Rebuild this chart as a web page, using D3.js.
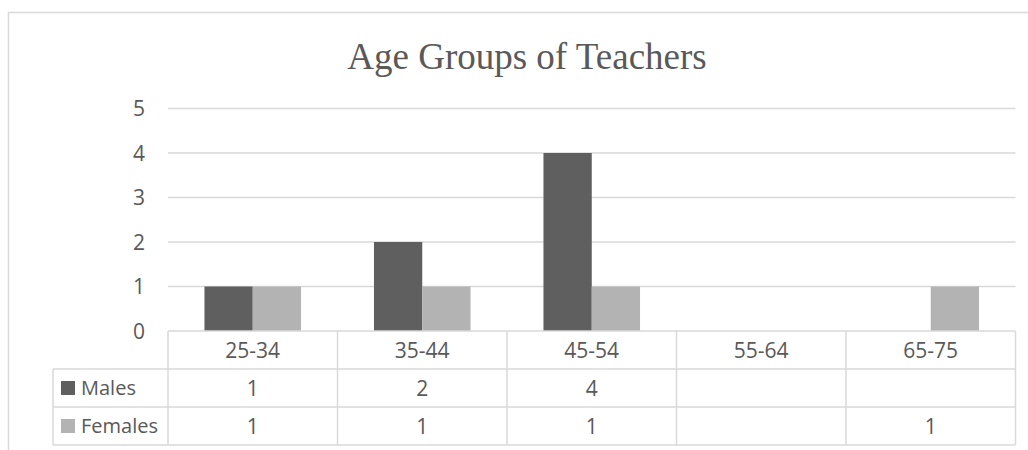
<!DOCTYPE html>
<html>
<head>
<meta charset="utf-8">
<script src="https://cdn.jsdelivr.net/npm/d3@7"></script>
<style>
  body { margin: 0; background: #fff; }
  text { font-family: "Open Sans", "Noto Sans", sans-serif; fill: #595959; }
</style>
</head>
<body>
<svg id="grafico"></svg>
<script>
"use strict"

const categorias = ['25-34', '35-44', '45-54', '55-64', '65-75'];
const series = ['Males', 'Females'];
const machos = [1, 2, 4, null, null];
const femeas = [1, 1, 1, null, 1];
const ticksY = [0, 1, 2, 3, 4, 5];
const titulo = 'Age Groups of Teachers';

function iniciar(){
  const largura = 1028;
  const altura = 450;
  const cinza = '#d9d9d9';
  const cores = d3.scaleOrdinal().domain(series).range(['#5f5f5f', '#b3b3b3']);

  const valores = { Males: machos, Females: femeas };
  const dados = categorias.map((c, i) => ({
    nome: c,
    barras: series.map(s => ({ serie: s, valor: valores[s][i] }))
  }));

  const svg = d3.select('#grafico').attr('width', largura).attr('height', altura);

  // moldura do grafico (cortada a direita e embaixo)
  svg.append('rect')
    .attr('x', 8.5).attr('y', 12.5)
    .attr('width', 1040).attr('height', 460)
    .attr('fill', 'none').attr('stroke', cinza).attr('stroke-width', 1.5);

  svg.append('text')
    .attr('x', 527).attr('y', 69)
    .attr('text-anchor', 'middle')
    .style('font-family', '"Liberation Serif", "Times New Roman", serif')
    .style('font-size', '37px')
    .text(titulo);

  const x = d3.scaleBand()
    .domain(categorias)
    .range([168, 1015.5]);
  const x1 = d3.scaleBand()
    .domain(series)
    .range([0, x.bandwidth()])
    .paddingOuter(0.755);
  const y = d3.scaleLinear()
    .domain([0, 5])
    .range([331, 108.5]);

  // linhas de grade
  svg.selectAll('.grade')
    .data(ticksY.filter(t => t > 0))
    .enter()
      .append('line')
      .attr('x1', 168).attr('x2', 1015.5)
      .attr('y1', d => y(d)).attr('y2', d => y(d))
      .attr('stroke', cinza).attr('stroke-width', 1.5);

  svg.selectAll('.rotuloY')
    .data(ticksY)
    .enter()
      .append('text')
      .attr('x', 145)
      .attr('y', d => y(d))
      .attr('dy', '0.36em')
      .attr('text-anchor', 'end')
      .style('font-size', '21px')
      .text(d => d);

  // barras
  const grupos = svg.selectAll('.grupo')
    .data(dados)
    .enter()
      .append('g')
      .attr('transform', d => `translate(${x(d.nome)},0)`);

  grupos.selectAll('rect')
    .data(d => d.barras.filter(b => b.valor != null))
    .enter()
      .append('rect')
      .attr('x', d => x1(d.serie))
      .attr('y', d => y(d.valor))
      .attr('width', x1.bandwidth())
      .attr('height', d => y(0) - y(d.valor))
      .attr('fill', d => cores(d.serie));

  // tabela de dados
  const linhaAlt = 38;
  const topo = y(0);
  const legEsq = 53;
  const tabela = svg.append('g');
  const linhasH = [topo, topo + linhaAlt, topo + 2 * linhaAlt, topo + 3 * linhaAlt];
  linhasH.forEach((yy, i) => {
    tabela.append('line')
      .attr('x1', i === 0 ? 168 : legEsq).attr('x2', 1015.5)
      .attr('y1', yy).attr('y2', yy)
      .attr('stroke', cinza).attr('stroke-width', 1.5);
  });
  const bordas = categorias.map(c => x(c)).concat([x.range()[1]]);
  bordas.forEach(xx => {
    tabela.append('line')
      .attr('x1', xx).attr('x2', xx)
      .attr('y1', topo).attr('y2', topo + 3 * linhaAlt)
      .attr('stroke', cinza).attr('stroke-width', 1.5);
  });
  tabela.append('line')
    .attr('x1', legEsq).attr('x2', legEsq)
    .attr('y1', topo + linhaAlt).attr('y2', topo + 3 * linhaAlt)
    .attr('stroke', cinza).attr('stroke-width', 1.5);

  tabela.selectAll('.cat')
    .data(categorias)
    .enter()
      .append('text')
      .attr('x', d => x(d) + x.bandwidth() / 2)
      .attr('y', topo + linhaAlt / 2)
      .attr('dy', '0.36em')
      .attr('text-anchor', 'middle')
      .style('font-size', '21px')
      .text(d => d);

  series.forEach((s, j) => {
    const cy = topo + linhaAlt * (j + 1) + linhaAlt / 2;
    tabela.append('rect')
      .attr('x', 61).attr('y', cy - 7)
      .attr('width', 14).attr('height', 14)
      .attr('fill', cores(s));
    tabela.append('text')
      .attr('x', 81).attr('y', cy)
      .attr('dy', '0.36em')
      .style('font-size', '20px')
      .text(s);
    tabela.selectAll('.val' + s)
      .data(valores[s])
      .enter()
        .append('text')
        .attr('x', (d, i) => x(categorias[i]) + x.bandwidth() / 2)
        .attr('y', cy)
        .attr('dy', '0.36em')
        .attr('text-anchor', 'middle')
        .style('font-size', '21px')
        .text(d => d == null ? '' : d);
  });
}

window.addEventListener('load', iniciar, false);
</script>
</body>
</html>
